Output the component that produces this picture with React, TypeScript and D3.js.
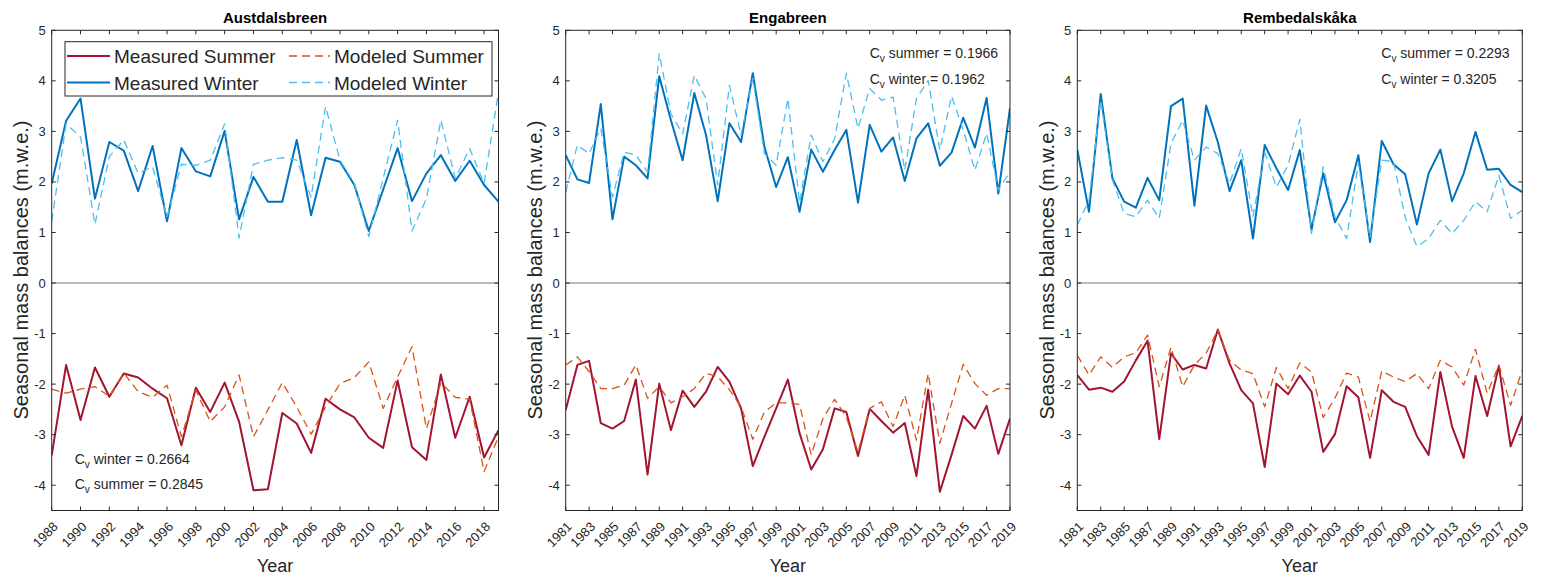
import React from "react";
import * as d3 from "d3";

// ---------- DATA ----------
const austYears = d3.range(1988, 2020);
const longYears = d3.range(1981, 2020);

const austMeasSummer = [-3.41, -1.62, -2.71, -1.67, -2.25, -1.79, -1.87, -2.09, -2.28, -3.21, -2.07, -2.55, -1.97, -2.74, -4.10, -4.08, -2.57, -2.78, -3.36, -2.29, -2.50, -2.66, -3.06, -3.26, -1.93, -3.25, -3.50, -1.81, -3.06, -2.25, -3.45, -2.91];
const austModSummer = [-2.1, -2.18, -2.1, -2.05, -2.24, -1.78, -2.15, -2.26, -2.02, -3.04, -2.12, -2.74, -2.45, -1.82, -3.04, -2.51, -1.97, -2.45, -2.99, -2.45, -1.99, -1.87, -1.56, -2.48, -1.86, -1.26, -2.88, -1.97, -2.26, -2.30, -3.73, -3.04];
const austMeasWinter = [1.97, 3.21, 3.65, 1.67, 2.79, 2.62, 1.82, 2.71, 1.22, 2.67, 2.21, 2.11, 3.01, 1.26, 2.10, 1.61, 1.61, 2.83, 1.34, 2.48, 2.40, 1.94, 1.03, 1.85, 2.67, 1.62, 2.17, 2.53, 2.02, 2.42, 1.94, 1.61];
const austModWinter = [1.22, 3.15, 2.89, 1.16, 2.5, 2.83, 2.17, 2.3, 1.3, 2.35, 2.33, 2.43, 3.15, 0.89, 2.35, 2.43, 2.48, 2.43, 1.7, 3.49, 2.43, 1.97, 0.92, 2.07, 3.22, 1.03, 1.67, 3.22, 2.07, 2.66, 1.97, 3.78];

const engaMeasSummer = [-2.51, -1.62, -1.54, -2.77, -2.88, -2.73, -1.91, -3.79, -1.99, -2.91, -2.13, -2.45, -2.15, -1.66, -1.95, -2.48, -3.62, -3.04, -2.48, -1.91, -2.97, -3.69, -3.29, -2.48, -2.55, -3.42, -2.49, -2.73, -2.96, -2.77, -3.82, -2.11, -4.13, -3.40, -2.63, -2.88, -2.43, -3.38, -2.68];
const engaModSummer = [-1.62, -1.46, -1.75, -2.09, -2.09, -2.02, -1.62, -2.28, -2.05, -2.37, -2.25, -2.09, -1.79, -1.85, -2.11, -2.45, -3.09, -2.55, -2.37, -2.37, -2.40, -3.40, -2.68, -2.30, -2.65, -3.34, -2.48, -2.35, -2.84, -2.22, -3.11, -1.79, -3.17, -2.38, -1.61, -1.99, -2.22, -2.09, -2.09];
const engaMeasWinter = [2.53, 2.05, 1.98, 3.54, 1.26, 2.50, 2.33, 2.07, 4.09, 3.22, 2.43, 3.76, 2.93, 1.62, 3.16, 2.79, 4.15, 2.69, 1.90, 2.49, 1.41, 2.64, 2.20, 2.63, 3.03, 1.59, 3.13, 2.60, 2.88, 2.02, 2.86, 3.16, 2.32, 2.58, 3.27, 2.68, 3.66, 1.77, 3.46];
const engaModWinter = [1.80, 2.73, 2.56, 3.06, 1.70, 2.59, 2.53, 2.20, 4.54, 3.35, 2.95, 4.11, 3.65, 1.94, 3.91, 2.93, 4.05, 2.56, 2.33, 3.65, 1.59, 2.93, 2.40, 2.85, 4.15, 3.06, 3.85, 3.62, 3.68, 2.23, 3.65, 4.01, 2.63, 3.70, 3.03, 2.23, 2.96, 1.84, 2.20];

const rembMeasSummer = [-1.82, -2.11, -2.07, -2.15, -1.95, -1.53, -1.14, -3.09, -1.39, -1.71, -1.62, -1.69, -0.92, -1.59, -2.12, -2.38, -3.64, -1.99, -2.20, -1.83, -2.15, -3.34, -2.99, -2.04, -2.26, -3.46, -2.12, -2.35, -2.45, -3.03, -3.40, -1.76, -2.84, -3.46, -1.84, -2.63, -1.64, -3.23, -2.63];
const rembModSummer = [-1.43, -1.82, -1.46, -1.67, -1.46, -1.38, -1.03, -2.05, -1.27, -2.05, -1.62, -1.39, -0.93, -1.53, -1.72, -1.79, -2.45, -1.67, -2.09, -1.58, -1.76, -2.66, -2.28, -1.78, -1.86, -2.74, -1.74, -1.86, -1.95, -1.79, -2.09, -1.53, -1.66, -2.02, -1.31, -2.18, -1.62, -2.42, -1.72];
const rembMeasWinter = [2.64, 1.41, 3.74, 2.07, 1.61, 1.49, 2.08, 1.64, 3.50, 3.65, 1.53, 3.51, 2.79, 1.82, 2.43, 0.88, 2.73, 2.27, 1.84, 2.63, 1.06, 2.17, 1.20, 1.64, 2.53, 0.81, 2.81, 2.35, 2.15, 1.16, 2.17, 2.64, 1.62, 2.17, 2.99, 2.24, 2.26, 1.94, 1.80];
const rembModWinter = [1.15, 1.64, 3.62, 2.04, 1.38, 1.31, 1.64, 1.28, 2.76, 3.22, 2.43, 2.69, 2.56, 1.97, 2.66, 1.31, 2.59, 1.90, 2.33, 3.24, 0.98, 2.30, 1.31, 0.88, 2.37, 0.90, 2.43, 2.40, 1.30, 0.72, 0.88, 1.24, 0.98, 1.24, 1.61, 1.41, 2.13, 1.28, 1.44];

const panelTitles = ["Austdalsbreen", "Engabreen", "Rembedalskåka"];
const cvLines = [
  [["winter", "0.2664"], ["summer", "0.2845"]],
  [["summer", "0.1966"], ["winter", "0.1962"]],
  [["summer", "0.2293"], ["winter", "0.3205"]],
];
const yTicks = [-4, -3, -2, -1, 0, 1, 2, 3, 4, 5];
const austXTicks = d3.range(1988, 2019, 2);
const longXTicks = d3.range(1981, 2020, 2);
const seriesNames = ["Measured Summer", "Modeled Summer", "Measured Winter", "Modeled Winter"];

// ---------- STYLE ----------
const FONT = '"Liberation Sans", Arial, Helvetica, sans-serif';
const AX = "#262626";
const styles = [
  { color: "#A2142F", width: 2, dash: null },
  { color: "#D95319", width: 1.3, dash: "8,5" },
  { color: "#0072BD", width: 2, dash: null },
  { color: "#4DBEEE", width: 1.3, dash: "8,5" },
];

const panels = [
  { x0: 51.7, x1: 498.5, years: austYears, xTicks: austXTicks, series: [austMeasSummer, austModSummer, austMeasWinter, austModWinter], cvPos: "bottom" },
  { x0: 565.7, x1: 1010, years: longYears, xTicks: longXTicks, series: [engaMeasSummer, engaModSummer, engaMeasWinter, engaModWinter], cvPos: "top" },
  { x0: 1077.3, x1: 1522.3, years: longYears, xTicks: longXTicks, series: [rembMeasSummer, rembModSummer, rembMeasWinter, rembModWinter], cvPos: "top" },
];

const Y_TOP = 30.3;
const Y_BOT = 510.5;

function Panel({ p, idx }: { p: any; idx: number }) {
  const x = d3.scaleLinear().domain([p.years[0], 2019]).range([p.x0, p.x1]);
  const y = d3.scaleLinear().domain([-4.5, 5]).range([Y_BOT, Y_TOP]);
  const line = d3.line<[number, number]>().x((d) => x(d[0])).y((d) => y(d[1]));
  const clipId = `clip${idx}`;
  const cx = (p.x0 + p.x1) / 2;
  const tl = 4;
  const cvX = p.cvPos === "bottom" ? p.x0 + 23 : p.x0 + 304;
  const cvY = p.cvPos === "bottom" ? [464, 489] : [58, 83.5];
  return (
    <g>
      <defs>
        <clipPath id={clipId}>
          <rect x={p.x0} y={Y_TOP} width={p.x1 - p.x0} height={Y_BOT - Y_TOP} />
        </clipPath>
      </defs>
      <rect x={p.x0} y={Y_TOP} width={p.x1 - p.x0} height={Y_BOT - Y_TOP} fill="#fff" />
      <line x1={p.x0} x2={p.x1} y1={y(0)} y2={y(0)} stroke="#555" strokeWidth={0.8} />
      <g clipPath={`url(#${clipId})`}>
        {p.series.map((vals: number[], i: number) => (
          <path
            key={i}
            d={line(p.years.map((yr: number, k: number) => [yr, vals[k]]) as [number, number][]) || ""}
            fill="none"
            stroke={styles[i].color}
            strokeWidth={styles[i].width}
            strokeDasharray={styles[i].dash || undefined}
            strokeLinejoin="round"
          />
        ))}
      </g>
      <rect x={p.x0} y={Y_TOP} width={p.x1 - p.x0} height={Y_BOT - Y_TOP} fill="none" stroke={AX} strokeWidth={1} />
      {p.xTicks.map((t: number) => (
        <g key={t}>
          <line x1={x(t)} x2={x(t)} y1={Y_BOT} y2={Y_BOT - tl} stroke={AX} />
          <line x1={x(t)} x2={x(t)} y1={Y_TOP} y2={Y_TOP + tl} stroke={AX} />
          <text
            transform={`translate(${x(t) + 7},${Y_BOT + 17}) rotate(-45)`}
            textAnchor="end"
            fontSize={13}
            fill={AX}
            fontFamily={FONT}
          >
            {t}
          </text>
        </g>
      ))}
      {yTicks.map((t) => (
        <g key={t}>
          <line x1={p.x0} x2={p.x0 + tl} y1={y(t)} y2={y(t)} stroke={AX} />
          <line x1={p.x1} x2={p.x1 - tl} y1={y(t)} y2={y(t)} stroke={AX} />
          <text x={p.x0 - 6} y={y(t) + 4.5} textAnchor="end" fontSize={13} fill={AX} fontFamily={FONT}>
            {t}
          </text>
        </g>
      ))}
      <text x={cx} y={22.5} textAnchor="middle" fontSize={15} fontWeight="bold" fill="#000" fontFamily={FONT}>
        {panelTitles[idx]}
      </text>
      <text x={cx} y={572} textAnchor="middle" fontSize={18} fill={AX} fontFamily={FONT}>
        Year
      </text>
      <text
        transform={`translate(${p.x0 - 23.5},${270}) rotate(-90)`}
        textAnchor="middle"
        fontSize={20}
        fill={AX}
        fontFamily={FONT}
      >
        Seasonal mass balances (m.w.e.)
      </text>
      {cvLines[idx].map((c, i) => (
        <text key={i} x={cvX} y={cvY[i]} fontSize={14} fill={AX} fontFamily={FONT}>
          C
          <tspan fontSize={10} dy={4}>v</tspan>
          <tspan dy={-4}>{` ${c[0]} = ${c[1]}`}</tspan>
        </text>
      ))}
    </g>
  );
}

function Legend() {
  const bx = 65, by = 41.7, bw = 427, bh = 54.3;
  const rows = [56, 82.5];
  const cols = [
    { l0: 67, l1: 110, tx: 114 },
    { l0: 289, l1: 330, tx: 334 },
  ];
  const items = [
    { s: 0, r: 0, c: 0 },
    { s: 1, r: 0, c: 1 },
    { s: 2, r: 1, c: 0 },
    { s: 3, r: 1, c: 1 },
  ];
  return (
    <g>
      <rect x={bx} y={by} width={bw} height={bh} fill="#fff" stroke={AX} strokeWidth={1} />
      {items.map((it) => (
        <g key={it.s}>
          <line
            x1={cols[it.c].l0}
            x2={cols[it.c].l1}
            y1={rows[it.r]}
            y2={rows[it.r]}
            stroke={styles[it.s].color}
            strokeWidth={styles[it.s].width}
            strokeDasharray={styles[it.s].dash || undefined}
          />
          <text x={cols[it.c].tx} y={rows[it.r] + 7} fontSize={19} fill={AX} fontFamily={FONT}>
            {seriesNames[it.s]}
          </text>
        </g>
      ))}
    </g>
  );
}

export default function App() {
  return (
    <svg
      width={1541}
      height={579}
      style={{ position: "absolute", left: 0, top: 0, background: "#fff" }}
      xmlns="http://www.w3.org/2000/svg"
    >
      <rect x={0} y={0} width={1541} height={579} fill="#fff" />
      {panels.map((p, i) => (
        <Panel key={i} p={p} idx={i} />
      ))}
      <Legend />
    </svg>
  );
}
